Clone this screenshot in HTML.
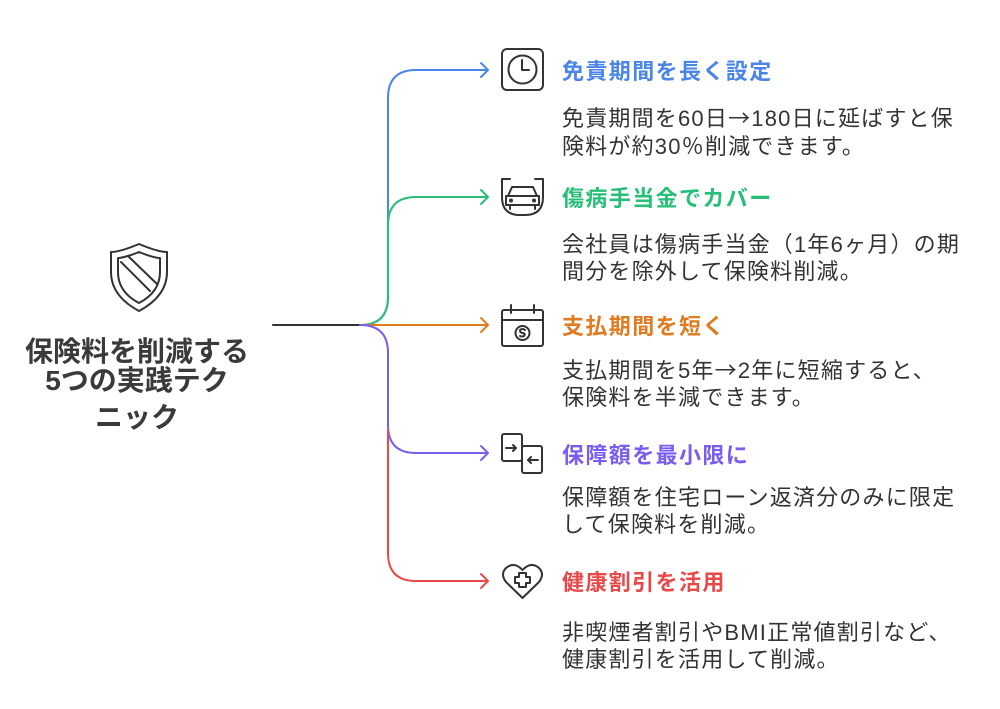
<!DOCTYPE html>
<html><head><meta charset="utf-8"><style>
body{margin:0;width:1000px;height:709px;background:#fff;position:relative;overflow:hidden;font-family:"Liberation Sans","Noto Sans CJK JP",sans-serif;}
.t{position:absolute;left:562px;font-size:22px;font-weight:bold;letter-spacing:1.4px;white-space:nowrap;line-height:26px}
.b{position:absolute;left:562px;font-size:22px;color:#333;letter-spacing:1.2px;white-space:nowrap;line-height:27px}
.m{position:absolute;left:0;width:274px;text-align:center;font-size:28px;font-weight:bold;color:#3a3a3a;white-space:nowrap;line-height:30px}
.a{font-family:"Noto Sans CJK JP",sans-serif}
</style></head><body>
<svg width="1000" height="709" style="position:absolute;left:0;top:0" fill="none" stroke-width="2" stroke-linecap="round" stroke-linejoin="round">
<path d="M273 325 H360" stroke="#333"/>
<path d="M360 325 Q388 325 388 297 V98 Q388 70 416 70 H486" stroke="#4a86e8"/>
<path d="M481 63 L488 70 L481 77" stroke="#4a86e8"/>
<path d="M360 325 Q388 325 388 297 V225 Q388 197 416 197 H486" stroke="#27be78"/>
<path d="M481 190 L488 197 L481 204" stroke="#27be78"/>
<path d="M360 325 H486" stroke="#e07b22"/>
<path d="M481 318 L488 325 L481 332" stroke="#e07b22"/>
<path d="M360 325 Q388 325 388 353 V425 Q388 453 416 453 H486" stroke="#7a5cf0"/>
<path d="M481 446 L488 453 L481 460" stroke="#7a5cf0"/>
<path d="M388 430 V553 Q388 581 416 581 H486" stroke="#e84a4a"/>
<path d="M481 574 L488 581 L481 588" stroke="#e84a4a"/>
<g stroke="#333">
<path d="M139 244 Q120 252 111 252 V272 Q111 296 139 311 Q167 296 167 272 V252 Q158 252 139 244Z"/>
<path d="M139 252 Q124 258 118 258 V272 Q118 292 139 303 Q160 292 160 272 V258 Q154 258 139 252Z"/>
<path d="M121 262 L150 291 M128 256 L157 284"/>
<rect x="502" y="49" width="41" height="41" rx="5"/>
<circle cx="522.5" cy="69.5" r="14"/><path d="M522 60 V70 H529"/>
<path d="M502 179 H510 M535 179 H543 M502 179 V197 Q502 215 520 215 H525 Q543 215 543 197 V179"/>
<path d="M508 196 L512 187 H533 L537 196 M506 196 H539 V205 H506 Z M510 205 V209 M535 205 V209"/>
<circle cx="511" cy="200.5" r="1"/><circle cx="534" cy="200.5" r="1"/>
<rect x="502" y="310" width="41" height="36" rx="2"/><path d="M502 320 H543 M511 305 V313 M534 305 V313"/>
<circle cx="522.5" cy="333" r="7"/><path d="M525 330 Q522 328 520 330 Q520 333 523 333 Q526 334 524 336 Q522 337 520 336"/>
<rect x="502" y="434" width="20" height="27" rx="2"/><rect x="522" y="446" width="20" height="27" rx="2"/>
<path d="M506 448 H516 M513 445 L516 448 L513 451 M538 460 H528 M531 457 L528 460 L531 463"/>
<path d="M522.5 598 L506 582 Q500 574 506 568 Q514 561 522.5 570 Q531 561 539 568 Q545 574 539 582 Z"/>
<path d="M519 573 H526 V577 H530 V583 H526 V587 H519 V583 H515 V577 H519 Z"/>
</g>
</svg>
<div class="m" style="top:337px">保険料を削減する</div>
<div class="m" style="top:366px">5つの実践テク</div>
<div class="m" style="top:403px">ニック</div>
<div class="t" style="top:59px;color:#4a86e8">免責期間を長く設定</div>
<div class="b" style="top:104px">免責期間を60日<span class="a">→</span>180日に延ばすと保<br>険料が約30<span class="a">％</span>削減できます。</div>
<div class="t" style="top:186px;color:#27be78">傷病手当金でカバー</div>
<div class="b" style="top:231px">会社員は傷病手当金（1年6ヶ月）の期<br>間分を除外して保険料削減。</div>
<div class="t" style="top:314px;color:#e07b22">支払期間を短く</div>
<div class="b" style="top:356px">支払期間を5年<span class="a">→</span>2年に短縮すると、<br>保険料を半減できます。</div>
<div class="t" style="top:443px;color:#7a5cf0">保障額を最小限に</div>
<div class="b" style="top:484px">保障額を住宅ローン返済分のみに限定<br>して保険料を削減。</div>
<div class="t" style="top:570px;color:#e84a4a">健康割引を活用</div>
<div class="b" style="top:619px">非喫煙者割引やBMI正常値割引など、<br>健康割引を活用して削減。</div>
</body></html>
